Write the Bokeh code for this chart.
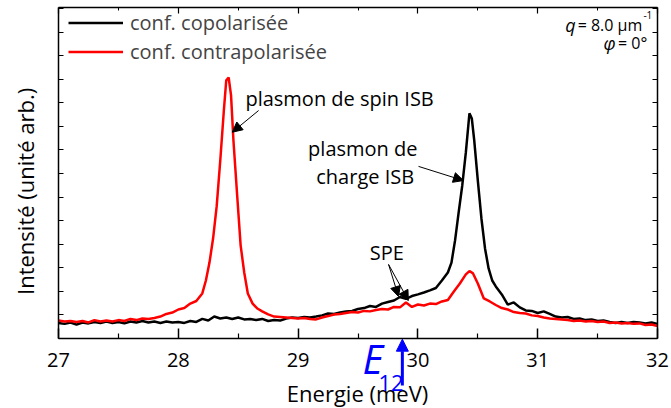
import math
from bokeh.plotting import figure
from bokeh.models import (Range1d, LinearAxis, Legend, LegendItem, Label, Arrow,
                          NormalHead, FixedTicker)
from bokeh.embed import file_html
from bokeh.resources import INLINE

# ---------------- data ----------------
energy_co = [27.00, 27.05, 27.10, 27.15, 27.20, 27.25, 27.30, 27.35, 27.40, 27.45,
             27.50, 27.55, 27.60, 27.65, 27.70, 27.75, 27.80, 27.85, 27.90, 27.95,
             28.00, 28.05, 28.10, 28.15, 28.20, 28.25, 28.30, 28.35, 28.40, 28.45,
             28.50, 28.55, 28.60, 28.65, 28.70, 28.75, 28.80, 28.85, 28.90, 28.95,
             29.00, 29.05, 29.10, 29.15, 29.20, 29.25, 29.30, 29.35, 29.40, 29.45,
             29.50, 29.55, 29.60, 29.65, 29.70, 29.75, 29.80, 29.85, 29.90, 29.95,
             30.00, 30.05, 30.10, 30.15, 30.20, 30.25, 30.28, 30.31, 30.34, 30.37,
             30.40, 30.43, 30.45, 30.47, 30.50, 30.53, 30.56, 30.59, 30.62, 30.65,
             30.70, 30.75, 30.80, 30.85, 30.90, 30.95, 31.00, 31.05, 31.10, 31.15,
             31.20, 31.25, 31.30, 31.35, 31.40, 31.45, 31.50, 31.55, 31.60, 31.65,
             31.70, 31.75, 31.80, 31.85, 31.90, 31.95, 32.00]
intensity_co = [0.66, 0.62, 0.68, 0.59, 0.68, 0.64, 0.70, 0.66, 0.72, 0.66,
                0.70, 0.64, 0.72, 0.68, 0.74, 0.68, 0.72, 0.66, 0.72, 0.68,
                0.70, 0.66, 0.74, 0.70, 0.83, 0.76, 0.93, 0.85, 0.89, 0.83,
                0.89, 0.81, 0.83, 0.78, 0.83, 0.74, 0.78, 0.76, 0.85, 0.89,
                0.87, 0.91, 0.89, 0.93, 0.98, 1.06, 1.04, 1.10, 1.15, 1.17,
                1.25, 1.29, 1.38, 1.34, 1.48, 1.55, 1.61, 1.76, 1.68, 1.80,
                1.87, 1.95, 2.04, 2.14, 2.46, 2.80, 3.22, 4.16, 5.35, 6.49,
                7.89, 9.55, 9.33, 8.40, 6.70, 5.09, 3.82, 2.97, 2.46, 2.21,
                1.87, 1.44, 1.53, 1.32, 1.19, 1.17, 1.08, 1.15, 1.04, 0.93,
                0.89, 0.91, 0.83, 0.85, 0.78, 0.81, 0.74, 0.76, 0.70, 0.66,
                0.70, 0.66, 0.70, 0.68, 0.64, 0.68, 0.62]

energy_contra = [27.00, 27.05, 27.10, 27.15, 27.20, 27.25, 27.30, 27.35, 27.40, 27.45,
                 27.50, 27.55, 27.60, 27.65, 27.70, 27.75, 27.80, 27.85, 27.90, 27.95,
                 28.00, 28.05, 28.10, 28.15, 28.20, 28.23, 28.26, 28.29, 28.32, 28.35,
                 28.38, 28.40, 28.42, 28.44, 28.46, 28.49, 28.52, 28.55, 28.58, 28.62,
                 28.66, 28.70, 28.75, 28.80, 28.85, 28.90, 28.95, 29.00, 29.05, 29.10,
                 29.15, 29.20, 29.25, 29.30, 29.35, 29.40, 29.45, 29.50, 29.55, 29.60,
                 29.65, 29.70, 29.75, 29.80, 29.85, 29.90, 29.95, 30.00, 30.05, 30.10,
                 30.15, 30.20, 30.25, 30.30, 30.35, 30.40, 30.43, 30.46, 30.50, 30.55,
                 30.60, 30.65, 30.70, 30.75, 30.80, 30.85, 30.90, 30.95, 31.00, 31.05,
                 31.10, 31.15, 31.20, 31.25, 31.30, 31.35, 31.40, 31.45, 31.50, 31.55,
                 31.60, 31.65, 31.70, 31.75, 31.80, 31.85, 31.90, 31.95, 32.00]
intensity_contra = [0.76, 0.72, 0.74, 0.70, 0.74, 0.68, 0.78, 0.72, 0.76, 0.72,
                    0.78, 0.74, 0.83, 0.78, 0.85, 0.83, 0.87, 0.93, 1.04, 1.10,
                    1.23, 1.29, 1.48, 1.59, 1.91, 2.46, 3.22, 4.24, 5.60, 7.55,
                    9.67, 10.95, 11.07, 10.31, 8.40, 6.15, 3.95, 2.80, 1.91, 1.48,
                    1.27, 1.15, 1.02, 0.93, 0.91, 0.89, 0.87, 0.85, 0.87, 0.83,
                    0.81, 0.89, 0.95, 1.02, 1.04, 1.08, 1.12, 1.10, 1.17, 1.15,
                    1.21, 1.25, 1.23, 1.34, 1.32, 1.53, 1.34, 1.44, 1.40, 1.48,
                    1.46, 1.57, 1.63, 1.99, 2.33, 2.72, 2.86, 2.76, 2.33, 1.70,
                    1.57, 1.42, 1.29, 1.23, 1.12, 1.08, 1.06, 0.98, 0.95, 0.89,
                    0.85, 0.83, 0.81, 0.78, 0.74, 0.76, 0.72, 0.74, 0.70, 0.72,
                    0.66, 0.68, 0.64, 0.66, 0.62, 0.64, 0.57, 0.59, 0.53]

x_major = [27, 28, 29, 30, 31, 32]
x_minor = [27.5, 28.5, 29.5, 30.5, 31.5]
y_ticks = list(range(0, 15))
series_labels = ["conf. copolarisée", "conf. contrapolarisée"]
e12_energy = 29.87

FONT = "Open Sans"
X_LO, X_HI = 27, 32
Y_LO, Y_HI = 0, 14.04

p = figure(width=671, height=408, x_range=Range1d(26.599, 32.1),
           y_range=Range1d(-2.97, 14.125),
           output_backend="svg", toolbar_location=None, x_axis_location="above",
           min_border_left=10, min_border_right=2, min_border_top=5, min_border_bottom=0)
p.xgrid.visible = False
p.ygrid.visible = False
p.outline_line_color = None
p.background_fill_color = "white"
p.border_fill_color = "white"

xt = FixedTicker(ticks=x_major, minor_ticks=x_minor)
yt = FixedTicker(ticks=y_ticks, minor_ticks=[])
blank_x = {t: "" for t in x_major}
blank_y = {t: "" for t in y_ticks}

# top border axis (inward ticks, no labels)
top_axis = p.xaxis[0]
top_axis.ticker = xt
top_axis.fixed_location = Y_HI
top_axis.bounds = (X_LO, X_HI)
top_axis.major_tick_in = 6
top_axis.major_tick_out = 0
top_axis.minor_tick_in = 3
top_axis.minor_tick_out = 0
top_axis.axis_line_width = 1.5
top_axis.major_tick_line_width = 1.2
top_axis.major_label_overrides = blank_x
top_axis.major_label_text_font_size = "1px"
top_axis.major_label_standoff = 0

# energy axis drawn at y = 0, labels placed underneath it
energy_axis = LinearAxis(ticker=xt, fixed_location=0, bounds=(X_LO, X_HI),
                         major_tick_in=0, major_tick_out=10, minor_tick_in=0, minor_tick_out=5,
                         axis_line_width=1.5, major_tick_line_width=1.5,
                         minor_tick_line_width=1.2,
                         major_label_text_font=FONT, major_label_text_font_size="20px",
                         major_label_text_color="black", major_label_standoff=-39)
p.add_layout(energy_axis, "above")

# left border axis
ay = p.yaxis[0]
ay.ticker = yt
ay.fixed_location = X_LO
ay.bounds = (Y_LO, Y_HI)
ay.major_tick_in = 5
ay.major_tick_out = 0
ay.minor_tick_in = 0
ay.minor_tick_out = 0
ay.axis_line_width = 1.5
ay.major_tick_line_width = 1.2
ay.major_label_overrides = blank_y
ay.major_label_text_font_size = "1px"
ay.major_label_standoff = 0

right_axis = LinearAxis(ticker=yt, fixed_location=X_HI, bounds=(Y_LO, Y_HI),
                        major_tick_in=5, major_tick_out=0,
                        minor_tick_in=0, minor_tick_out=0, major_label_overrides=blank_y,
                        major_label_text_font_size="1px", major_label_standoff=0,
                        axis_line_width=1.5, major_tick_line_width=1.2)
p.add_layout(right_axis, "right")

r_co = p.line(energy_co, intensity_co, line_color="black", line_width=2.5)
r_contra = p.line(energy_contra, intensity_contra, line_color="#ff0000", line_width=2.5)

legend = Legend(items=[LegendItem(label=series_labels[0], renderers=[r_co]),
                       LegendItem(label=series_labels[1], renderers=[r_contra])],
                location=(58, 342), margin=0, padding=0, spacing=0,
                glyph_width=55, glyph_height=29, label_height=29, label_standoff=7,
                label_text_font=FONT, label_text_font_size="20px",
                border_line_alpha=0, background_fill_alpha=0)
p.add_layout(legend)

def lab(x, y, text, size="20px", align="left", style="normal", color="black",
        baseline="middle", angle=0.0):
    p.add_layout(Label(x=x, y=y, text=text, text_font=FONT, text_font_size=size,
                       text_align=align, text_baseline=baseline, text_font_style=style,
                       text_color=color, angle=angle))

def arrow(x0, y0, x1, y1, color="black", width=1, size=10):
    p.add_layout(Arrow(x_start=x0, y_start=y0, x_end=x1, y_end=y1, line_color=color,
                       line_width=width,
                       end=NormalHead(size=size, fill_color=color, line_color=color)))

# axis titles
lab(26.724, 6.24, "Intensité (unité arb.)", size="22px", align="center", angle=math.pi / 2)
lab(29.496, -2.33, "Energie (meV)", size="22px", align="center")

# annotations
lab(28.56, 10.18, "plasmon de spin ISB")
arrow(28.67, 9.67, 28.45, 8.75)
lab(29.54, 8.06, "plasmon de", align="center")
lab(29.56, 6.87, "charge ISB", align="center")
arrow(30.005, 7.30, 30.38, 6.70)
lab(29.74, 3.65, "SPE", align="center")
arrow(29.755, 3.14, 29.838, 1.78)
arrow(29.755, 3.14, 29.92, 1.61)

# q and phi (top right)
lab(31.316, 13.28, "q", size="18px", style="italic", align="right")
lab(31.873, 13.28, "= 8.0 µm", size="16px", align="right")
lab(31.882, 13.72, "-1", size="10px")
lab(31.65, 12.53, "φ", size="18px", style="italic", align="right")
lab(31.915, 12.53, "= 0°", size="16px", align="right")

# E12 marker under the energy axis
arrow(e12_energy, -1.99, e12_energy, -0.03, color="#0000ff", width=3, size=12)
lab(29.538, -0.87, "E", size="40px", style="italic", color="#0000ff", baseline="alphabetic")
lab(29.67, -1.87, "12", size="22px", color="#0000ff", baseline="alphabetic")

open("out.html", "w").write(file_html(p, INLINE))
